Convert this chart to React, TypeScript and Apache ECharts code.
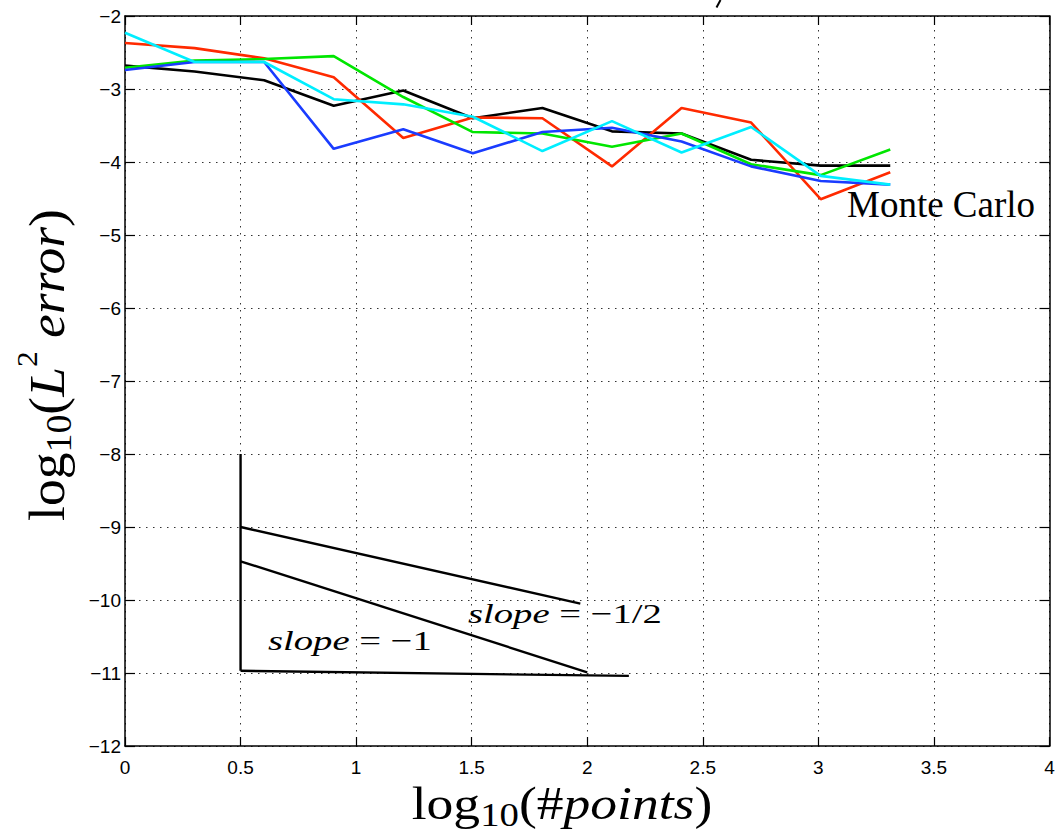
import React, { useEffect, useRef } from "react";
import * as echarts from "echarts";

// log10(#points) sample positions
const xPoints = [0, 0.301, 0.602, 0.903, 1.204, 1.505, 1.806, 2.107, 2.408, 2.709, 3.01, 3.311];
// log10(L2 error) for five Monte Carlo runs
const blackRun = [-2.68, -2.76, -2.88, -3.23, -3.02, -3.4, -3.26, -3.58, -3.61, -3.97, -4.05, -4.05];
const redRun = [-2.37, -2.44, -2.58, -2.84, -3.67, -3.39, -3.4, -4.06, -3.26, -3.46, -4.51, -4.14];
const greenRun = [-2.71, -2.61, -2.59, -2.55, -3.11, -3.59, -3.61, -3.79, -3.61, -4.03, -4.18, -3.83];
const blueRun = [-2.74, -2.63, -2.63, -3.82, -3.55, -3.88, -3.59, -3.53, -3.72, -4.06, -4.26, -4.31];
const cyanRun = [-2.23, -2.63, -2.63, -3.14, -3.21, -3.38, -3.85, -3.44, -3.87, -3.52, -4.19, -4.31];

// reference slope triangle
const slopeVertical = [[0.5, -8], [0.5, -10.97]];
const slopeHalf = [[0.5, -9.0], [1.97, -10.05]];
const slopeOne = [[0.5, -9.47], [2.0, -10.99]];
const slopeBase = [[0.5, -10.97], [2.18, -11.04]];

const xTicks = { min: 0, max: 4, interval: 0.5 };
const yTicks = { min: -12, max: -2, interval: 1 };

const runs = [
  { name: "run1", data: blackRun, color: "#000000" },
  { name: "run2", data: redRun, color: "#ff2a00" },
  { name: "run3", data: greenRun, color: "#00e600" },
  { name: "run4", data: blueRun, color: "#1a3cff" },
  { name: "run5", data: cyanRun, color: "#00eeff" },
];

const SERIF = "Liberation Serif";
const SANS = "Liberation Sans";

export default function App() {
  const ref = useRef<HTMLDivElement>(null);
  useEffect(() => {
    document.body.style.margin = "0";
    const chart = echarts.init(ref.current!, null, { renderer: "svg" });
    const axisLine = { show: true, onZero: false, lineStyle: { color: "#000", width: 1.5 } };
    const split = { show: true, lineStyle: { type: [1.5, 5.5] as any, color: "#333", width: 1 } };
    const fmtY = (v: number) => (v < 0 ? "\u2212" + Math.abs(v) : String(v));
    const lineSeries: any[] = runs.map((r) => ({
      type: "line",
      name: r.name,
      data: xPoints.map((x, i) => [x, r.data[i]]),
      showSymbol: false,
      symbol: "none",
      lineStyle: { color: r.color, width: 2.6 },
      itemStyle: { color: r.color },
      z: 3,
    }));
    [slopeVertical, slopeHalf, slopeOne, slopeBase].forEach((seg, k) => {
      lineSeries.push({
        type: "line",
        name: "slope" + k,
        data: seg,
        showSymbol: false,
        symbol: "none",
        lineStyle: { color: "#000", width: 2.4 },
        z: 3,
      });
    });
    const slopeRich = {
      r: { fontFamily: SERIF, fontSize: 28, fill: "#000" },
      i: { fontFamily: SERIF, fontStyle: "italic", fontSize: 28, fill: "#000" },
    };
    const option: any = {
      animation: false,
      backgroundColor: "#ffffff",
      grid: { left: 125, right: 11.5, top: 16, bottom: 87, containLabel: false },
      xAxis: [
        {
          type: "value",
          ...xTicks,
          position: "bottom",
          axisLine,
          axisTick: { show: true, inside: true, length: 9, lineStyle: { color: "#000", width: 1.2 } },
          axisLabel: { color: "#000", fontFamily: SANS, fontSize: 19, margin: 12 },
          splitLine: split,
        },
        {
          type: "value",
          ...xTicks,
          position: "top",
          axisLine,
          axisTick: { show: true, inside: true, length: 9, lineStyle: { color: "#000", width: 1.2 } },
          axisLabel: { show: false },
          splitLine: { show: false },
        },
      ],
      yAxis: [
        {
          type: "value",
          ...yTicks,
          position: "left",
          axisLine,
          axisTick: { show: true, inside: true, length: 10, lineStyle: { color: "#000", width: 1.2 } },
          axisLabel: { color: "#000", fontFamily: SANS, fontSize: 19, margin: 4, formatter: fmtY },
          splitLine: split,
        },
        {
          type: "value",
          ...yTicks,
          position: "right",
          axisLine,
          axisTick: { show: true, inside: true, length: 10, lineStyle: { color: "#000", width: 1.2 } },
          axisLabel: { show: false },
          splitLine: { show: false },
        },
      ],
      series: lineSeries,
      graphic: [
        {
          type: "text",
          x: 562,
          y: 803,
          scaleX: 1.14,
          style: {
            text: "{r|log}{s|10}{r|(#}{i|points}{r|)}",
            align: "center",
            verticalAlign: "middle",
            fill: "#000",
            rich: {
              r: { fontFamily: SERIF, fontSize: 47, lineHeight: 60, fill: "#000" },
              i: { fontFamily: SERIF, fontStyle: "italic", fontSize: 47, lineHeight: 60, fill: "#000" },
              s: { fontFamily: SERIF, fontSize: 34, lineHeight: 37, padding: [23, 0, 0, 0], fill: "#000" },
            },
          },
        },
        {
          type: "text",
          x: 46,
          y: 365,
          rotation: Math.PI / 2,
          scaleX: 1.05,
          style: {
            text: "{r|log}{s|10}{r|(}{i|L}{p|2}{i| error}{r|)}",
            align: "center",
            verticalAlign: "middle",
            fill: "#000",
            rich: {
              r: { fontFamily: SERIF, fontSize: 51, lineHeight: 64, fill: "#000" },
              i: { fontFamily: SERIF, fontStyle: "italic", fontSize: 51, lineHeight: 64, fill: "#000" },
              s: { fontFamily: SERIF, fontSize: 36, lineHeight: 38, padding: [26, 0, 0, 0], fill: "#000" },
              p: { fontFamily: SERIF, fontSize: 30, lineHeight: 26, padding: [0, 0, 38, 0], fill: "#000" },
            },
          },
        },
        {
          type: "text",
          x: 847,
          y: 204,
          style: {
            text: "Monte Carlo",
            fontFamily: SERIF,
            fontSize: 37,
            fill: "#000",
            align: "left",
            verticalAlign: "middle",
          },
        },
        {
          type: "text",
          x: 468,
          y: 613,
          scaleX: 1.38,
          style: {
            text: "{i|slope}{r| = \u22121/2}",
            align: "left",
            verticalAlign: "middle",
            fill: "#000",
            rich: slopeRich,
          },
        },
        {
          type: "text",
          x: 268,
          y: 640,
          scaleX: 1.38,
          style: {
            text: "{i|slope}{r| = \u22121}",
            align: "left",
            verticalAlign: "middle",
            fill: "#000",
            rich: slopeRich,
          },
        },
        {
          type: "line",
          shape: { x1: 720.5, y1: 0, x2: 716.5, y2: 7.5 },
          style: { stroke: "#000", lineWidth: 2 },
        },
      ],
    };
    chart.setOption(option);
    return () => chart.dispose();
  }, []);
  return <div ref={ref} style={{ width: 1061, height: 833, background: "#fff" }} />;
}
